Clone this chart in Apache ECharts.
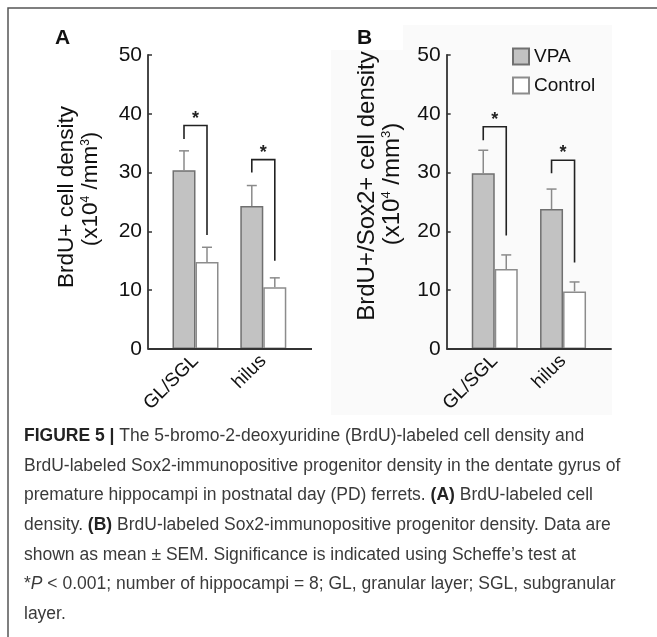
<!DOCTYPE html>
<html>
<head>
<meta charset="utf-8">
<script src="https://cdn.jsdelivr.net/npm/echarts@6/dist/echarts.min.js"></script>
<style>html,body{margin:0;padding:0;background:#fff;}#c{width:657px;height:637px;}</style>
</head>
<body>
<div id="c"></div>
<script>
// ---------- data ----------
const categories = ['GL/SGL', 'hilus'];
const seriesNames = ['VPA', 'Control'];
const yTicks = [0, 10, 20, 30, 40, 50];
// Panel A: BrdU+ cell density
const vpaA = [30.4, 24.3];
const vpaSemA = [3.3, 3.5];
const ctlA = [14.8, 10.5];
const ctlSemA = [2.5, 1.6];
// Panel B: BrdU+/Sox2+ cell density
const vpaB = [29.9, 23.8];
const vpaSemB = [3.9, 3.4];
const ctlB = [13.6, 9.8];
const ctlSemB = [2.4, 1.6];
// significance brackets: [top, left arm bottom, right arm bottom]
const bracketA = [[38.0, 35.7, 19.4], [32.2, 30.0, 15.0]];
const bracketB = [[37.8, 35.5, 19.3], [32.1, 29.9, 14.7]];

// ---------- style / layout ----------
const FONT = 'Liberation Sans, Arial, Helvetica, sans-serif';
const BW = 23;
const GRAY = '#c2c2c2';
const panels = [
  {axisX: 148, gridLeft: 161.6, gridW: 135.6, axisEnd: 312},
  {axisX: 446.7, gridLeft: 460.6, gridW: 136.6, axisEnd: 611.7}
];
const TOP = 55, H = 294;

const chart = echarts.init(document.getElementById('c'), null, {renderer: 'canvas'});

function errItems(vals, sems, side) {
  return vals.map((v, i) => [i, v, sems[i], side]);
}
function renderErr(params, api) {
  const i = api.value(0), m = api.value(1), s = api.value(2), side = api.value(3);
  const b = api.coord([i, m]);
  const t = api.coord([i, m + s]);
  const x = b[0] + side * BW / 2;
  const st = {stroke: '#8a8a8a', lineWidth: 1.5};
  return {type: 'group', children: [
    {type: 'line', shape: {x1: x, y1: b[1], x2: x, y2: t[1]}, style: st},
    {type: 'line', shape: {x1: x - 5, y1: t[1], x2: x + 5, y2: t[1]}, style: st}
  ]};
}
function renderBracket(params, api) {
  const i = api.value(0);
  const c = api.coord([i, api.value(1)]);
  const yl = api.coord([i, api.value(2)])[1];
  const yr = api.coord([i, api.value(3)])[1];
  const xl = c[0] - BW / 2, xr = c[0] + BW / 2;
  return {type: 'group', children: [
    {type: 'polyline', shape: {points: [[xl, yl], [xl, c[1]], [xr, c[1]], [xr, yr]]},
     style: {stroke: '#222', lineWidth: 1.6, fill: null}},
    {type: 'text', x: (xl + xr) / 2, y: c[1] - 7,
     style: {text: '*', font: 'bold 18px ' + FONT, fill: '#222', align: 'center', verticalAlign: 'middle'}}
  ]};
}

const grids = panels.map(p => ({left: p.gridLeft, width: p.gridW, top: TOP, height: H}));
const xAxes = panels.map((p, k) => ({
  type: 'category', gridIndex: k, data: categories,
  axisLine: {show: false}, axisTick: {show: false},
  axisLabel: {rotate: 45, fontFamily: FONT, fontSize: 19, color: '#111', margin: 9, interval: 0}
}));
const yAxes = panels.map((p, k) => ({
  type: 'value', gridIndex: k, min: 0, max: 50, interval: 10,
  offset: p.gridLeft - p.axisX,
  splitLine: {show: false},
  axisLine: {show: true, lineStyle: {color: '#333', width: 1.8}},
  axisTick: {show: true, inside: true, length: 4, lineStyle: {color: '#333', width: 1.5}},
  axisLabel: {fontFamily: FONT, fontSize: 21, color: '#111', margin: 6,
    formatter: v => yTicks.includes(v) ? String(v) : ''}
}));

const sets = [
  {vpa: vpaA, vs: vpaSemA, ctl: ctlA, cs: ctlSemA, br: bracketA},
  {vpa: vpaB, vs: vpaSemB, ctl: ctlB, cs: ctlSemB, br: bracketB}
];
const series = [];
sets.forEach((d, k) => {
  series.push({type: 'bar', name: seriesNames[0], xAxisIndex: k, yAxisIndex: k, data: d.vpa,
    barWidth: BW, barGap: '0%', itemStyle: {color: GRAY, borderColor: '#707070', borderWidth: 1.5}});
  series.push({type: 'bar', name: seriesNames[1], xAxisIndex: k, yAxisIndex: k, data: d.ctl,
    barWidth: BW, barGap: '0%', itemStyle: {color: '#ffffff', borderColor: '#8c8c8c', borderWidth: 1.5}});
  series.push({type: 'custom', xAxisIndex: k, yAxisIndex: k, z: 5, renderItem: renderErr,
    data: errItems(d.vpa, d.vs, -1).concat(errItems(d.ctl, d.cs, 1)), silent: true});
  series.push({type: 'custom', xAxisIndex: k, yAxisIndex: k, z: 6, renderItem: renderBracket,
    data: d.br.map((b, i) => [i, b[0], b[1], b[2]]), silent: true});
});

const captionLines = [
  '{b|FIGURE 5 | }{n|The 5-bromo-2-deoxyuridine (BrdU)-labeled cell density and}',
  '{n|BrdU-labeled Sox2-immunopositive progenitor density in the dentate gyrus of}',
  '{n|premature hippocampi in postnatal day (PD) ferrets. }{b|(A)}{n| BrdU-labeled cell}',
  '{n|density. }{b|(B)}{n| BrdU-labeled Sox2-immunopositive progenitor density. Data are}',
  '{n|shown as mean ± SEM. Significance is indicated using Scheffe’s test at}',
  '{n|*}{i|P}{n| < 0.001; number of hippocampi = 8; GL, granular layer; SGL, subgranular}',
  '{n|layer.}'
];
const CAPF = 17.5;
const capRich = {
  b: {fontFamily: FONT, fontSize: CAPF, fontWeight: 'bold', fill: '#222'},
  n: {fontFamily: FONT, fontSize: CAPF, fill: '#3a3a3a'},
  i: {fontFamily: FONT, fontSize: CAPF, fontStyle: 'italic', fill: '#3a3a3a'}
};
function titleRich(f) {
  return {
    a: {fontFamily: FONT, fontSize: f, fill: '#111'},
    s: {fontFamily: FONT, fontSize: Math.round(f * 0.55), fill: '#111', verticalAlign: 'top', lineHeight: f}
  };
}

const graphic = [
  {type: 'rect', z: -10, shape: {x: 331, y: 25, width: 281, height: 390}, style: {fill: '#fafafa'}},
  {type: 'rect', z: -9, shape: {x: 331, y: 25, width: 72, height: 25}, style: {fill: '#ffffff'}},
  {type: 'rect', z: -8, shape: {x: 8, y: 8, width: 700, height: 700}, style: {fill: null, stroke: '#555', lineWidth: 1.5}},
  {type: 'text', x: 55, y: 38, style: {text: 'A', font: 'bold 21px ' + FONT, fill: '#111', verticalAlign: 'middle'}},
  {type: 'text', x: 357, y: 38, style: {text: 'B', font: 'bold 21px ' + FONT, fill: '#111', verticalAlign: 'middle'}},
  {type: 'text', x: 67, y: 197, rotation: Math.PI / 2,
   style: {text: '{a|BrdU+ cell density}', rich: titleRich(22.5), align: 'center', verticalAlign: 'middle'}},
  {type: 'text', x: 91, y: 189, rotation: Math.PI / 2,
   style: {text: '{a|(x10}{s|4}{a| /mm}{s|3}{a|)}', rich: titleRich(22.5), align: 'center', verticalAlign: 'middle'}},
  {type: 'text', x: 367, y: 186, rotation: Math.PI / 2,
   style: {text: '{a|BrdU+/Sox2+ cell density}', rich: titleRich(24), align: 'center', verticalAlign: 'middle'}},
  {type: 'text', x: 392, y: 184, rotation: Math.PI / 2,
   style: {text: '{a|(x10}{s|4}{a| /mm}{s|3}{a|)}', rich: titleRich(24), align: 'center', verticalAlign: 'middle'}}
];
captionLines.forEach((t, j) => {
  graphic.push({type: 'text', x: 24, y: 436 + j * 29.7,
    style: {text: t, rich: capRich, verticalAlign: 'middle', align: 'left'}});
});

chart.setOption({
  animation: false,
  backgroundColor: '#ffffff',
  grid: grids,
  xAxis: xAxes,
  yAxis: yAxes,
  legend: {
    data: seriesNames, orient: 'vertical', left: 512, top: 47, padding: 0,
    itemWidth: 16, itemHeight: 16, itemGap: 10, icon: 'rect', selectedMode: false,
    textStyle: {fontFamily: FONT, fontSize: 19, color: '#111'}
  },
  series: series,
  graphic: graphic
});

// x-axis baselines spanning from the y axis to the right end
const extra = panels.map((p, k) => {
  const y0 = chart.convertToPixel({yAxisIndex: k}, 0);
  return {type: 'line', z: 10, shape: {x1: p.axisX, y1: y0, x2: p.axisEnd, y2: y0},
    style: {stroke: '#333', lineWidth: 1.8}};
});
chart.setOption({graphic: graphic.concat(extra)});
</script>
</body>
</html>
